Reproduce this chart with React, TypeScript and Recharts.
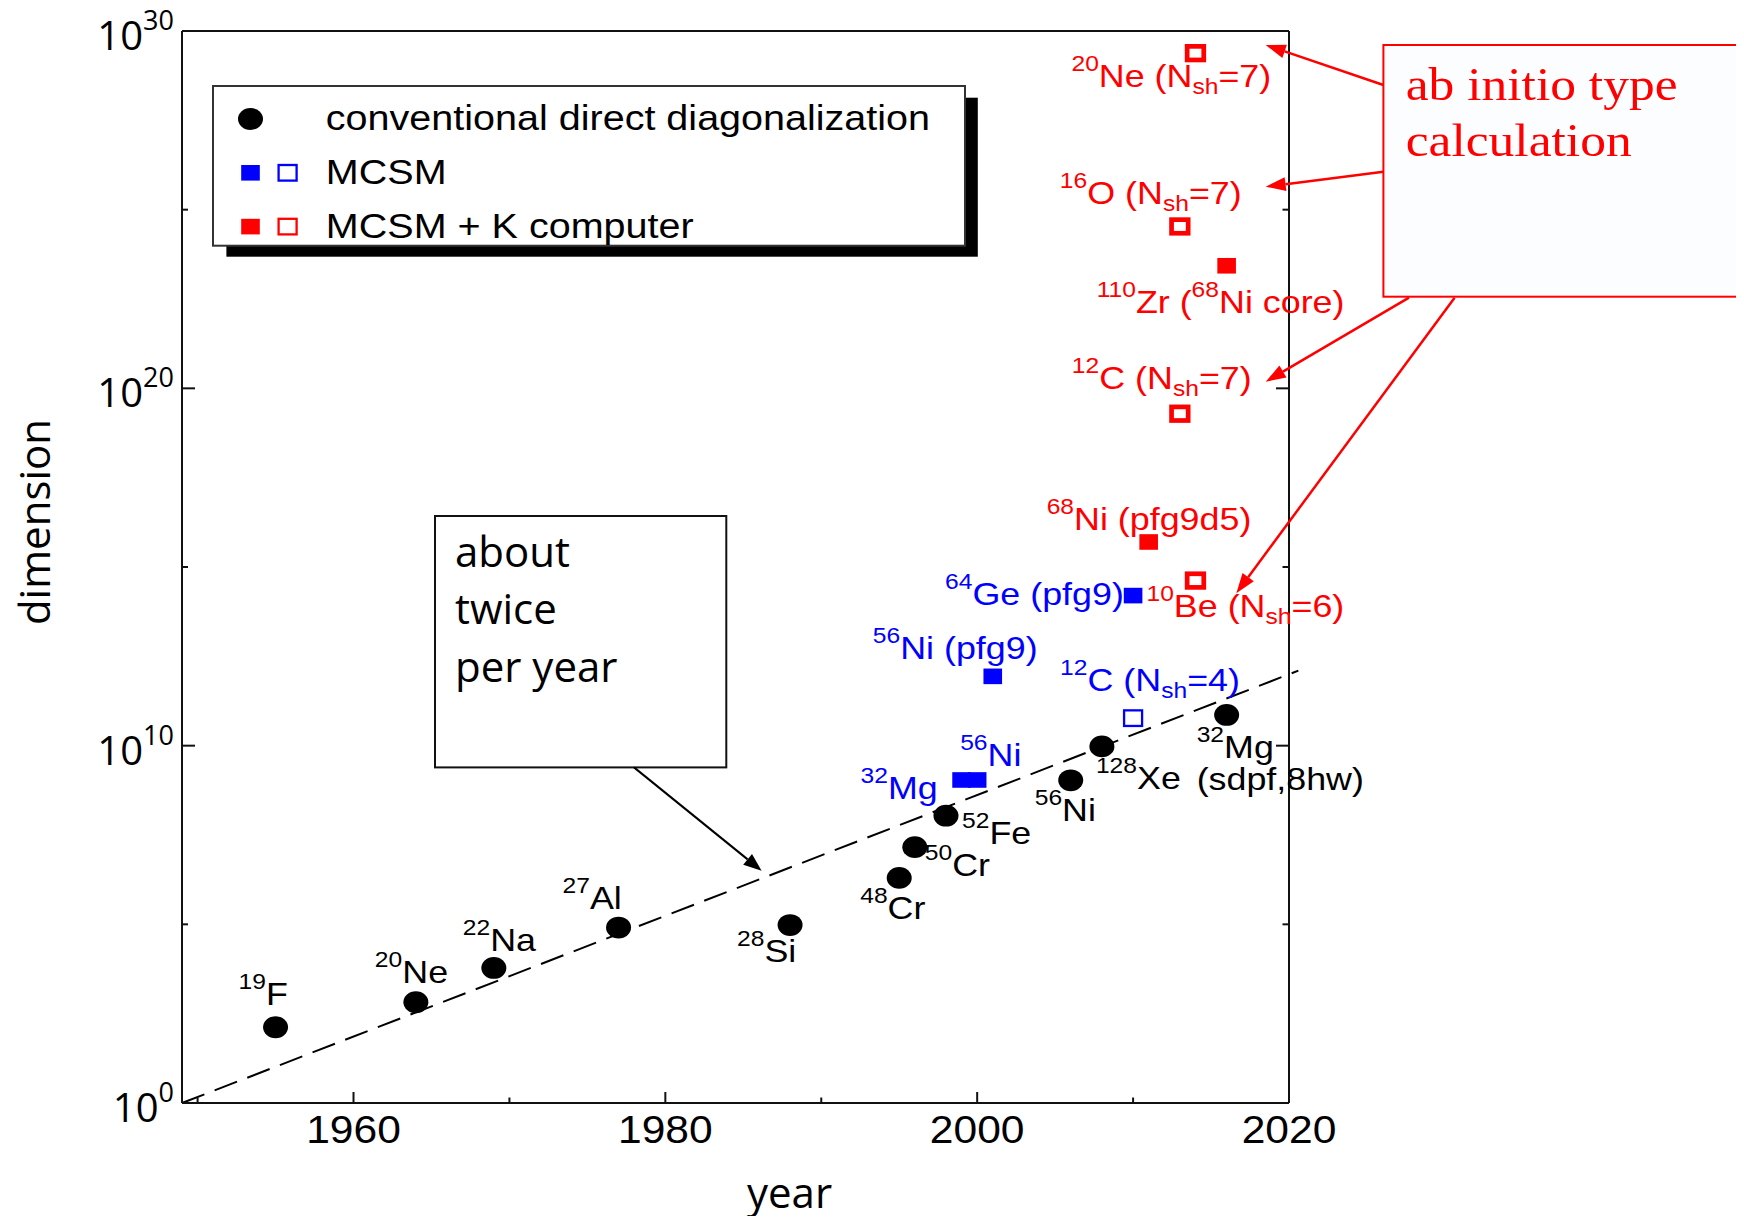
import React from "react";
import { ScatterChart, Scatter, XAxis, YAxis, ReferenceLine, Legend } from "recharts";

// year of each calculation and log10 of its matrix dimension

// conventional direct diagonalization
const convYear = [1955, 1964, 1969, 1977, 1988, 1995, 1996, 1998, 2006, 2008, 2016];
const convLog = [2.12, 2.82, 3.78, 4.91, 4.98, 6.3, 7.16, 8.04, 9.03, 9.98, 10.86];
const convName = [
  "^{19}F", "^{20}Ne", "^{22}Na", "^{27}Al", "^{28}Si", "^{48}Cr",
  "^{50}Cr", "^{52}Fe", "^{56}Ni", "^{128}Xe", "^{32}Mg\n(sdpf,8hw)",
];

// MCSM
const mcsmYear = [1999, 2000, 2001, 2010];
const mcsmLog = [9.04, 9.04, 11.94, 14.2];
const mcsmName = ["^{32}Mg", "^{56}Ni", "^{56}Ni (pfg9)", "^{64}Ge (pfg9)"];
const mcsmOpenYear = [2010];
const mcsmOpenLog = [10.77];
const mcsmOpenName = ["^{12}C (N_{sh}=4)"];

// MCSM + K computer
const kYear = [2011, 2016];
const kLog = [15.7, 23.43];
const kName = ["^{68}Ni (pfg9d5)", "^{110}Zr (^{68}Ni core)"];
const kOpenYear = [2014, 2013, 2013, 2014];
const kOpenLog = [29.38, 24.53, 19.29, 14.62];
const kOpenName = ["^{20}Ne (N_{sh}=7)", "^{16}O (N_{sh}=7)", "^{12}C (N_{sh}=7)", "^{10}Be (N_{sh}=6)"];

// guide line for the growth trend
const trendFrom = { x: 1949, y: 0 };
const trendTo = { x: 2020.6, y: 12.1 };

const yearTicks = [1950, 1960, 1970, 1980, 1990, 2000, 2010, 2020];
const logTicks = [0, 5, 10, 15, 20, 25, 30];

// where each label sits relative to its symbol (text start, baseline), px
const convAt = [[-37, -22], [-41, -19], [-31, -17], [-56, -19], [-53, 37], [-39, 41], [10, 29], [16, 28], [-36, 41], [-6, 43], [-30, 43]];
const mcsmAt = [[-101, 19], [-17, -14], [-120, -17], [-188, 9]];
const mcsmOpenAt = [[-73, -27]];
const kAt = [[-102, -12], [-130, 47]];
const kOpenAt = [[-124, 34], [-120, -22], [-108, -25], [-49, 36]];

const W = 1744;
const H = 1224;
const INK = "#111";
const BLUE = "#0000ff";
const RED = "#ff0000";
const SANS = "'Liberation Sans', Arial, sans-serif";
const SLIDE = "'Open Sans', sans-serif";
const SERIF = "'Liberation Serif', 'Times New Roman', serif";
const WIDE = 1.12; // plot lettering is set a little wide

type Pt = { year: number; lg: number; name: string; dx: number; dy: number };

function points(years: number[], logs: number[], names: string[], at: number[][]): Pt[] {
  return years.map((year, i) => ({ year, lg: logs[i], name: names[i], dx: at[i][0], dy: at[i][1] }));
}

const convPts = points(convYear, convLog, convName, convAt);
const mcsmPts = points(mcsmYear, mcsmLog, mcsmName, mcsmAt);
const mcsmOpenPts = points(mcsmOpenYear, mcsmOpenLog, mcsmOpenName, mcsmOpenAt);
const kPts = points(kYear, kLog, kName, kAt);
const kOpenPts = points(kOpenYear, kOpenLog, kOpenName, kOpenAt);

// "^{20}Ne (N_{sh}=7)" -> tspans with super/subscripts
function rich(line: string, small: number) {
  let shift = 0;
  return line
    .split(/(\^\{[^}]*\}|_\{[^}]*\})/)
    .filter(Boolean)
    .map((part, i) => {
      let target = 0;
      let body = part;
      let size: number | undefined;
      if (part.startsWith("^{")) {
        target = -16;
        size = small;
        body = part.slice(2, -1);
      } else if (part.startsWith("_{")) {
        target = 7;
        size = small;
        body = part.slice(2, -1);
      }
      const dy = target - shift;
      shift = target;
      return (
        <tspan key={i} dy={dy} fontSize={size}>
          {body}
        </tspan>
      );
    });
}

function PointLabel({ x, y, text, color }: { x: number; y: number; text: string; color: string }) {
  return (
    <>
      {text.split("\n").map((line, i) => (
        <text
          key={i}
          transform={`translate(${x} ${y + i * 32}) scale(${WIDE} 1)`}
          fontFamily={SANS}
          fontSize={32}
          fill={color}
          style={{ whiteSpace: "pre" }}
        >
          {rich(line, 22)}
        </text>
      ))}
    </>
  );
}

type Kind = "dot" | "fill" | "open" | "thick";

function Mark({ kind, color, cx, cy }: { kind: Kind; color: string; cx: number; cy: number }) {
  if (kind === "dot") return <ellipse cx={cx} cy={cy} rx={12.5} ry={10.9} fill={color} />;
  if (kind === "fill") return <rect x={cx - 9.3} y={cy - 7.8} width={18.6} height={15.6} fill={color} />;
  if (kind === "open")
    return <rect x={cx - 9} y={cy - 7.8} width={18} height={15.6} fill="none" stroke={color} strokeWidth={2.3} />;
  return <rect x={cx - 8.3} y={cy - 6.8} width={16.6} height={13.6} fill="none" stroke={color} strokeWidth={4.7} />;
}

const symbol = (kind: Kind, color: string, text: string) => (p: any) => (
  <g>
    <Mark kind={kind} color={color} cx={p.cx} cy={p.cy} />
    <PointLabel x={p.cx + p.payload.dx} y={p.cy + p.payload.dy} text={p.payload.name} color={text} />
  </g>
);

// ticks point into the frame, labels sit outside
const bottomTick = ({ x, y, payload }: any) => {
  const major = payload.value % 20 === 0;
  return (
    <g>
      <line x1={x} y1={y} x2={x} y2={y - (major ? 11 : 5.5)} stroke={INK} strokeWidth={2} />
      {major && (
        <text
          transform={`translate(${x} ${y + 40}) scale(${WIDE} 1)`}
          textAnchor="middle"
          fontFamily={SANS}
          fontSize={38}
          fill="#000"
        >
          {payload.value}
        </text>
      )}
    </g>
  );
};

const topTick = ({ x, y, payload }: any) => (
  <line x1={x} y1={y} x2={x} y2={y + (payload.value % 20 === 0 ? 11 : 5.5)} stroke={INK} strokeWidth={2} />
);

const leftTick = ({ x, y, payload }: any) => {
  const major = payload.value % 10 === 0;
  return (
    <g>
      <line x1={x} y1={y} x2={x + (major ? 13 : 6)} y2={y} stroke={INK} strokeWidth={2} />
      {major && (
        <text x={x - 8} y={y + 19} textAnchor="end" fontFamily={SLIDE} fontSize={40} fill="#000">
          10
          <tspan dy={-20} fontSize={27}>
            {payload.value}
          </tspan>
        </text>
      )}
    </g>
  );
};

const rightTick = ({ x, y, payload }: any) => (
  <line x1={x} y1={y} x2={x - (payload.value % 10 === 0 ? 13 : 6.5)} y2={y} stroke={INK} strokeWidth={2} />
);

const legendRows: { marks: [Kind, string][]; text: string }[] = [
  { marks: [["dot", "#000"]], text: "conventional direct diagonalization" },
  { marks: [["fill", BLUE], ["open", BLUE]], text: "MCSM" },
  { marks: [["fill", RED], ["open", RED]], text: "MCSM + K computer" },
];

function LegendBox() {
  return (
    <svg width={772} height={176}>
      <rect x={14.4} y={12.7} width={751.4} height={159} fill="#000" />
      <rect x={1} y={1} width={752} height={159.7} fill="#fff" stroke="#333" strokeWidth={2} />
      {legendRows.map((row, i) => {
        const cy = 34 + i * 53.8;
        return (
          <g key={row.text}>
            {row.marks.map(([kind, color], j) => (
              <Mark key={j} kind={kind} color={color} cx={38.5 + j * 37.1} cy={cy} />
            ))}
            <text
              transform={`translate(113.8 ${cy + 11.3}) scale(${WIDE} 1)`}
              fontFamily={SANS}
              fontSize={35.3}
              fill="#000"
            >
              {row.text}
            </text>
          </g>
        );
      })}
    </svg>
  );
}

function Arrow({ from, to, color, width = 2, head = 20, half = 7 }: any) {
  const [x1, y1] = from;
  const [x2, y2] = to;
  const a = Math.atan2(y2 - y1, x2 - x1);
  const c = Math.cos(a);
  const s = Math.sin(a);
  const bx = x2 - head * c;
  const by = y2 - head * s;
  return (
    <g>
      <line x1={x1} y1={y1} x2={bx} y2={by} stroke={color} strokeWidth={width} />
      <polygon
        points={`${x2},${y2} ${bx - half * s},${by + half * c} ${bx + half * s},${by - half * c}`}
        fill={color}
      />
    </g>
  );
}

// callout boxes drawn over the chart
function Notes() {
  return (
    <svg
      width={W}
      height={H}
      style={{ position: "absolute", left: 0, top: 0, pointerEvents: "none" }}
    >
      <rect x={435} y={516} width={291.3} height={251.4} fill="#fff" stroke={INK} strokeWidth={2} />
      {["about", "twice", "per year"].map((t, i) => (
        <text key={t} x={455} y={566.7 + i * 57.5} fontFamily={SLIDE} fontSize={42} fill="#000">
          {t}
        </text>
      ))}
      <Arrow from={[634, 767.4]} to={[761.6, 870.7]} color="#000" width={2} head={18} half={7} />

      <rect x={1383.4} y={45} width={400} height={251.7} fill="#fcfdff" stroke={RED} strokeWidth={2} />
      {["ab initio type", "calculation"].map((t, i) => (
        <text
          key={t}
          transform={`translate(1405.7 ${100 + i * 56}) scale(${WIDE} 1)`}
          fontFamily={SERIF}
          fontSize={46}
          fill={RED}
        >
          {t}
        </text>
      ))}
      <Arrow from={[1383.4, 85]} to={[1265.7, 45]} color={RED} width={2.5} />
      <Arrow from={[1383.4, 171.7]} to={[1265.7, 186.7]} color={RED} width={2.5} />
      <Arrow from={[1409, 297.7]} to={[1265.7, 381.7]} color={RED} width={2.5} />
      <Arrow from={[1454.6, 297.7]} to={[1236.3, 593.3]} color={RED} width={2.5} />
    </svg>
  );
}

const axisLine = { stroke: INK, strokeWidth: 2 };

export default function App() {
  // the negative margin cancels the body margin so the figure fills the window
  return (
    <div style={{ position: "relative", width: W, height: H, margin: -8 }}>
      <ScatterChart width={W} height={H} margin={{ top: 30, right: 454, bottom: 0, left: 0 }}>
        <XAxis
          type="number"
          dataKey="year"
          domain={[1949, 2020]}
          ticks={yearTicks}
          interval={0}
          height={121}
          tickSize={0}
          tickMargin={0}
          tickLine={false}
          axisLine={axisLine}
          tick={bottomTick}
          label={({ viewBox }: any) => (
            <text
              x={viewBox.x + viewBox.width / 2 + 54}
              y={viewBox.y + 105}
              textAnchor="middle"
              fontFamily={SLIDE}
              fontSize={42}
              fill="#000"
            >
              year
            </text>
          )}
        />
        <XAxis
          xAxisId="top"
          orientation="top"
          type="number"
          domain={[1949, 2020]}
          allowDataOverflow
          ticks={yearTicks}
          interval={0}
          height={1}
          tickSize={0}
          tickMargin={0}
          tickLine={false}
          axisLine={axisLine}
          tick={topTick}
        />
        <YAxis
          type="number"
          dataKey="lg"
          domain={[0, 30]}
          ticks={logTicks}
          interval={0}
          width={182}
          tickSize={0}
          tickMargin={0}
          tickLine={false}
          axisLine={axisLine}
          tick={leftTick}
          label={({ viewBox }: any) => {
            const x = viewBox.x + 50;
            const y = viewBox.y + viewBox.height / 2 - 45;
            return (
              <text
                x={x}
                y={y}
                transform={`rotate(-90 ${x} ${y})`}
                textAnchor="middle"
                fontFamily={SLIDE}
                fontSize={42}
                fill="#000"
              >
                dimension
              </text>
            );
          }}
        />
        <YAxis
          yAxisId="right"
          orientation="right"
          type="number"
          domain={[0, 30]}
          allowDataOverflow
          ticks={logTicks}
          interval={0}
          width={1}
          tickSize={0}
          tickMargin={0}
          tickLine={false}
          axisLine={axisLine}
          tick={rightTick}
        />
        <ReferenceLine
          segment={[trendFrom, trendTo]}
          ifOverflow="visible"
          stroke="#000"
          strokeWidth={2}
          strokeDasharray="24 11"
        />
        <Legend
          layout="vertical"
          align="center"
          verticalAlign="middle"
          wrapperStyle={{ left: 212.2, top: 85, width: 772, height: 176 }}
          content={() => <LegendBox />}
        />
        <Scatter data={convPts} shape={symbol("dot", "#000", "#000")} isAnimationActive={false} />
        <Scatter data={mcsmPts} shape={symbol("fill", BLUE, BLUE)} isAnimationActive={false} />
        <Scatter data={mcsmOpenPts} shape={symbol("open", BLUE, BLUE)} isAnimationActive={false} />
        <Scatter data={kPts} shape={symbol("fill", RED, RED)} isAnimationActive={false} />
        <Scatter data={kOpenPts} shape={symbol("thick", RED, RED)} isAnimationActive={false} />
      </ScatterChart>
      <Notes />
    </div>
  );
}
